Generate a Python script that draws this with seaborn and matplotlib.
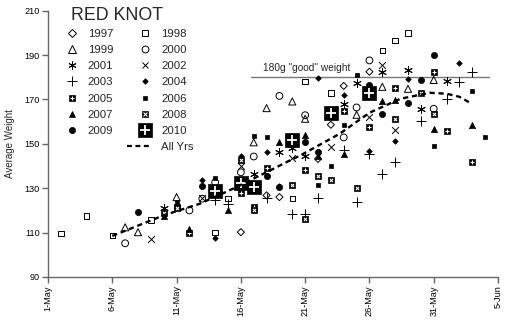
import numpy as np
import matplotlib
matplotlib.use("Agg")
import matplotlib.pyplot as plt
from matplotlib.lines import Line2D
from matplotlib.legend_handler import HandlerLine2D
import seaborn as sns

# x values are days after 1 May, y values are average weights (g)
d1997 = [15, 17, 18, 21, 22, 23, 25]
w1997 = [110.2, 126.8, 126.0, 143.2, 158.6, 176.1, 182.5]

d1998 = [1, 3, 5, 8, 13, 14, 19, 20, 22, 26, 27, 28]
w1998 = [109.7, 117.4, 108.8, 115.6, 110.0, 125.3, 125.3, 178.0, 172.8, 192.1, 196.6, 200.0]

d1999 = [6, 7, 10, 16, 17, 19, 20, 24, 26, 28, 30]
w1999 = [112.4, 110.2, 126.0, 150.7, 166.1, 169.1, 161.3, 163.1, 175.7, 174.8, 178.8]

d2000 = [6, 11, 12, 13, 15, 16, 18, 20, 23, 24, 25, 30]
w2000 = [105.2, 120.0, 125.3, 132.7, 137.2, 144.3, 171.6, 162.9, 152.9, 166.4, 187.6, 165.8]

d2001 = [9, 16, 18, 19, 20, 23, 24, 26, 28, 29, 31]
w2001 = [121.3, 136.2, 146.2, 148.2, 144.7, 167.9, 177.6, 182.5, 183.1, 165.6, 178.3]

d2002 = [8, 12, 15, 19, 22, 25, 26, 27]
w2002 = [107.0, 125.4, 140.2, 143.7, 148.4, 162.2, 185.5, 156.2]

d2003 = [13, 14, 17, 19, 20, 21, 23, 24, 25, 26, 27, 29, 31, 32, 33]
w2003 = [124.5, 123.0, 125.4, 118.3, 118.3, 125.7, 147.3, 123.8, 145.6, 136.5, 141.7, 160.1, 170.1, 178.0, 182.5]

d2004 = [12, 13, 15, 17, 18, 21, 23, 25, 27, 28, 32]
w2004 = [133.5, 107.4, 144.3, 146.2, 130.8, 179.6, 171.9, 147.0, 151.4, 179.2, 186.5]

d2005 = [10, 11, 15, 16, 17, 20, 23, 25, 27, 30, 31, 33]
w2005 = [121.5, 109.7, 127.8, 121.4, 139.2, 138.0, 164.6, 157.4, 175.1, 182.5, 155.9, 141.7]

d2006 = [10, 13, 16, 17, 21, 22, 23, 24, 30, 33, 34]
w2006 = [123.8, 134.7, 153.4, 152.9, 131.6, 139.9, 158.6, 181.0, 149.2, 173.9, 153.2]

d2007 = [9, 11, 14, 18, 20, 21, 23, 26, 27, 30, 33]
w2007 = [117.5, 111.8, 120.4, 150.7, 154.0, 144.3, 145.5, 169.4, 169.7, 156.7, 158.6]

d2008 = [9, 10, 15, 16, 19, 20, 21, 22, 24, 27, 29, 30]
w2008 = [118.8, 120.9, 142.5, 120.0, 131.3, 116.0, 135.7, 133.8, 130.0, 161.2, 173.1, 163.5]

d2009 = [7, 12, 17, 18, 20, 21, 25, 26, 28, 29, 30]
w2009 = [119.1, 130.8, 135.3, 130.5, 150.7, 146.2, 176.5, 163.4, 168.2, 178.8, 189.9]

d2010 = [13, 15, 16, 19, 22, 25]
w2010 = [128.7, 132.3, 130.5, 151.7, 163.7, 173.1]

# all-years trend curve
trend_d = [5.0, 9.0, 11.8, 14.4, 17.0, 18.8, 19.6, 21.2, 22.7, 25.0, 27.4, 29.7, 31.0, 32.0, 32.8]
trend_w = [108.5, 117.8, 123.0, 129.8, 137.2, 142.5, 144.7, 149.8, 154.6, 164.0, 170.3, 173.0, 172.6, 171.2, 168.6]

good_weight = 180
good_span = [15.8, 34.3]

tick_days = [0, 5, 10, 15, 20, 25, 30, 35]
tick_labels = ["1-May", "6-May", "11-May", "16-May", "21-May", "26-May", "31-May", "5-Jun"]
y_ticks = [90, 110, 130, 150, 170, 190, 210]

sns.set_style("ticks")
plt.rcParams["font.family"] = ["Liberation Sans", "DejaVu Sans"]

fig = plt.figure(figsize=(5.08, 3.25), dpi=100)
ax = fig.add_axes([48 / 508, 48 / 325, 450 / 508, 266.3 / 325])

ASTER = (6, 2, 0)
K = "black"

# year -> list of layers (marker, size, face, edge, linewidth)
styles = {
    "1997": [("D", 13, "none", K, 0.7)],
    "1998": [("s", 16, "none", K, 0.7)],
    "1999": [("^", 26, "none", K, 0.7)],
    "2000": [("o", 24, "none", K, 0.7)],
    "2001": [(ASTER, 32, K, K, 0.7)],
    "2002": [("x", 24, K, K, 0.7)],
    "2003": [("+", 42, K, K, 0.7)],
    "2004": [("D", 8, K, K, 0.5)],
    "2005": [("s", 21, K, K, 0.5), ("+", 5, "white", "white", 0.8)],
    "2006": [("s", 11, K, K, 0.5)],
    "2007": [("^", 20, K, K, 0.5)],
    "2008": [("s", 21, K, K, 0.5), ("x", 5, "white", "white", 0.8)],
    "2009": [("o", 20, K, K, 0.5)],
    "2010": [("s", 90, K, K, 0.5), ("+", 42, "white", "white", 1.3)],
}
series = {
    "1997": (d1997, w1997), "1998": (d1998, w1998), "1999": (d1999, w1999),
    "2000": (d2000, w2000), "2001": (d2001, w2001), "2002": (d2002, w2002),
    "2003": (d2003, w2003), "2004": (d2004, w2004), "2005": (d2005, w2005),
    "2006": (d2006, w2006), "2007": (d2007, w2007), "2008": (d2008, w2008),
    "2009": (d2009, w2009), "2010": (d2010, w2010),
}

z = 3
for yr, (dd, ww) in series.items():
    for marker, s, face, edge, lw in styles[yr]:
        filled = matplotlib.markers.MarkerStyle(marker).is_filled()
        if filled:
            sns.scatterplot(x=dd, y=ww, ax=ax, marker=marker, s=s, facecolor=face,
                            edgecolor=edge, linewidth=lw, zorder=z, legend=False)
        else:
            sns.scatterplot(x=dd, y=ww, ax=ax, marker=marker, s=s, color=edge,
                            linewidth=lw, zorder=z, legend=False)
        z += 0.01

sns.lineplot(x=trend_d, y=trend_w, ax=ax, sort=False, estimator=None, color=K,
             linewidth=1.7, linestyle=(0, (2.2, 1.6)), zorder=5)

ax.plot(good_span, [good_weight, good_weight], color="#777777", linewidth=1.0, zorder=2)
ax.text(16.7, good_weight + 2.0, '180g "good" weight', fontsize=7.3, ha="left", va="bottom")

ax.set_xlim(0, 35)
ax.set_ylim(90, 210)
ax.set_xticks(tick_days)
ax.set_xticklabels(tick_labels, rotation=90, fontsize=6.6)
ax.set_yticks(y_ticks)
ax.set_yticklabels([str(v) for v in y_ticks], fontsize=6.6)
ax.set_ylabel("Average Weight", fontsize=7, labelpad=7)
ax.set_xlabel("")
for side in ("top", "right"):
    ax.spines[side].set_visible(False)
for side in ("left", "bottom"):
    ax.spines[side].set_color("#666666")
    ax.spines[side].set_linewidth(1.0)
ax.tick_params(axis="both", colors="#666666", labelcolor="black", length=4, width=1.0, pad=2)


class LongDash(HandlerLine2D):
    def create_artists(self, legend, orig_handle, xdescent, ydescent, width, height, fontsize, trans):
        yc = (height - ydescent) / 2
        line = Line2D([-xdescent - 1.1 * width, width - xdescent + 1.0], [yc, yc])
        self.update_prop(line, orig_handle, legend)
        line.set_transform(trans)
        return [line]


def handle(yr):
    parts = []
    for marker, s, face, edge, lw in styles[yr]:
        ms = np.sqrt(s)
        if matplotlib.markers.MarkerStyle(marker).is_filled():
            parts.append(Line2D([], [], linestyle="none", marker=marker, markersize=ms,
                                markerfacecolor=face, markeredgecolor=edge, markeredgewidth=lw))
        else:
            parts.append(Line2D([], [], linestyle="none", marker=marker, markersize=ms,
                                color=edge, markeredgewidth=lw))
    return tuple(parts) if len(parts) > 1 else parts[0]


left_col = ["1997", "1999", "2001", "2003", "2005", "2007", "2009"]
right_col = ["1998", "2000", "2002", "2004", "2006", "2008", "2010"]
blank = Line2D([], [], linestyle="none")
trend_handle = Line2D([], [], color=K, linewidth=1.6, linestyle=(0, (2.2, 1.6)))
handles = [handle(y) for y in left_col] + [blank] + [handle(y) for y in right_col] + [trend_handle]
labels = left_col + [""] + right_col + ["All Yrs"]

# chart title sits above the legend block
fig.text(71 / 508, 1 - 7.5 / 325, "RED KNOT", fontsize=12.8, ha="left", va="top")

ax.legend(handles, labels, ncol=2, loc="upper left", bbox_to_anchor=(0.030, 0.947),
          frameon=False, fontsize=8.2,
          handlelength=1.0, handletextpad=0.9, columnspacing=2.3, labelspacing=0.53,
          borderpad=0.4, borderaxespad=0,
          handler_map={trend_handle: LongDash()})

fig.savefig("out.png", dpi=100)
